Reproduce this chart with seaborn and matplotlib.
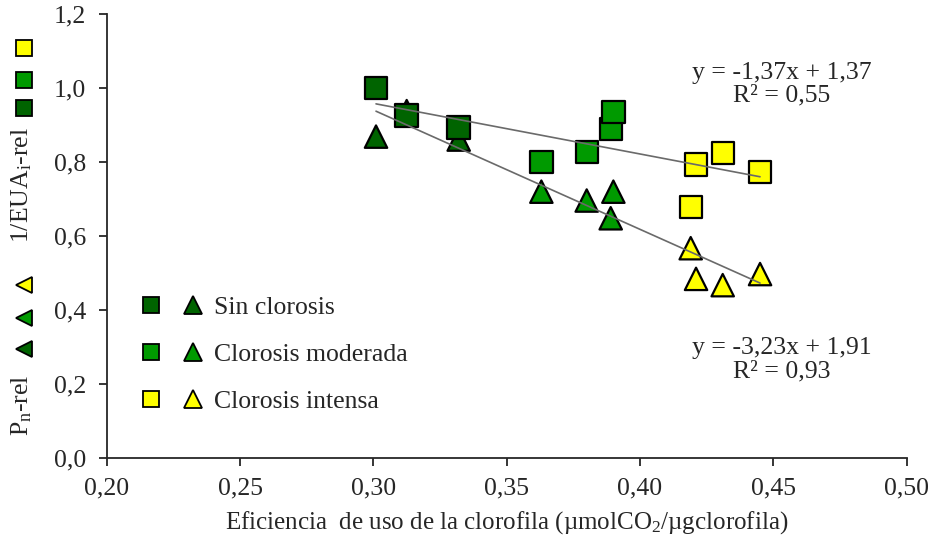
import numpy as np
import pandas as pd
import matplotlib
matplotlib.use("Agg")
import matplotlib.pyplot as plt
from matplotlib.ticker import FuncFormatter, MultipleLocator
from matplotlib.lines import Line2D
from matplotlib.legend_handler import HandlerTuple
import seaborn as sns

# Chlorophyll use efficiency (x) with relative 1/EUAi (squares) and relative Pn (triangles)
groups = ["Sin clorosis", "Clorosis moderada", "Clorosis intensa"]

x_sin = [0.301, 0.3125, 0.332]
eua_sin = [1.000, 0.926, 0.894]
pn_sin = [0.869, 0.938, 0.861]

x_mod = [0.363, 0.380, 0.389, 0.390]
eua_mod = [0.801, 0.828, 0.890, 0.936]
pn_mod = [0.720, 0.696, 0.648, 0.720]

x_int = [0.419, 0.421, 0.431, 0.445]
eua_int = [0.678, 0.794, 0.824, 0.774]
pn_int = [0.567, 0.484, 0.467, 0.497]

# Linear fits as reported in the equations
fit_eua = (-1.37, 1.37, 0.55)
fit_pn = (-3.23, 1.91, 0.93)

colors = {"Sin clorosis": "#006400", "Clorosis moderada": "#009a00", "Clorosis intensa": "#ffff00"}

rows = []
for g, xs, e, p in [(groups[0], x_sin, eua_sin, pn_sin),
                    (groups[1], x_mod, eua_mod, pn_mod),
                    (groups[2], x_int, eua_int, pn_int)]:
    for xi, ei, pi in zip(xs, e, p):
        rows.append({"x": xi, "y": pi, "grupo": g, "var": "Pn"})
        rows.append({"x": xi, "y": ei, "grupo": g, "var": "EUA"})
df = pd.DataFrame(rows)

FS = 18.5

sns.set_style("ticks")
plt.rcParams["font.family"] = ["Liberation Serif", "DejaVu Serif"]
plt.rcParams["mathtext.fontset"] = "custom"
plt.rcParams["mathtext.rm"] = "Liberation Serif"
plt.rcParams["mathtext.it"] = "Liberation Serif"

fig = plt.figure(figsize=(9.34, 5.40), dpi=100)
ax = fig.add_axes([0.1142, 0.1524, 0.9708 - 0.1142, 0.9735 - 0.1524])

for var, mk in [("Pn", "^"), ("EUA", "s")]:
    sub = df[df["var"] == var]
    sns.scatterplot(data=sub, x="x", y="y", hue="grupo", palette=colors,
                    marker=mk, s=260, edgecolor="black", linewidth=1.6,
                    legend=False, ax=ax, zorder=3)

allx = np.array(x_sin + x_mod + x_int)
xl = np.array([allx.min(), allx.max()])
for m, b, _ in (fit_eua, fit_pn):
    ax.plot(xl, m * xl + b, color="#6a6a6a", lw=1.2, zorder=4)

def fmt_eq(m, b, r2):
    s = f"y = {m:.2f}x + {b:.2f}\nR² = {r2:.2f}"
    return s.replace(".", ",")

ax.text(0.4532, 1.01, fmt_eq(*fit_eua), ha="center", va="center",
        fontsize=FS, linespacing=1.05, multialignment="center")
ax.text(0.4532, 0.265, fmt_eq(*fit_pn), ha="center", va="center",
        fontsize=FS, linespacing=1.05, multialignment="center")

ax.set_xlim(0.20, 0.50)
ax.set_ylim(0.0, 1.2)
ax.xaxis.set_major_locator(MultipleLocator(0.05))
ax.yaxis.set_major_locator(MultipleLocator(0.2))
ax.xaxis.set_major_formatter(FuncFormatter(lambda v, p: f"{v:.2f}".replace(".", ",")))
ax.yaxis.set_major_formatter(FuncFormatter(lambda v, p: f"{v:.1f}".replace(".", ",")))
ax.tick_params(axis="both", direction="out", length=6, width=1.3, labelsize=FS)
ax.tick_params(axis="x", pad=8)
ax.tick_params(axis="y", pad=9)
for s in ("top", "right"):
    ax.spines[s].set_visible(False)
for s in ("left", "bottom"):
    ax.spines[s].set_linewidth(1.3)
ax.set_xlabel("Eficiencia  de uso de la clorofila (µmolCO$_2$/µgclorofila)", fontsize=18, labelpad=7)
ax.set_ylabel("")

# Legend: square + triangle per group
handles = []
for g in groups:
    sq = Line2D([], [], marker="s", ls="none", ms=11.5, mfc=colors[g], mec="black", mew=1.3)
    tr = Line2D([], [], marker="^", ls="none", ms=12.5, mfc=colors[g], mec="black", mew=1.3)
    handles.append((sq, tr))
ax.legend(handles, groups, handler_map={tuple: HandlerTuple(ndivide=None, pad=0.97)},
          loc="upper left", bbox_to_anchor=(0.032, 0.387), frameon=False, fontsize=FS,
          handlelength=2.3, handletextpad=0.5, labelspacing=0.93, borderaxespad=0)

# Composite y-axis label with marker keys
fig.text(0.0233, 1 - 185 / 540, "1/EUA$_\\mathrm{i}$-rel", rotation=90, ha="center", va="center", fontsize=FS)
fig.text(0.0233, 1 - 405 / 540, "P$_\\mathrm{n}$-rel", rotation=90, ha="center", va="center", fontsize=FS)
key_y_sq = [48, 80, 108]
key_y_tr = [285, 318, 349]
for g, ys, yt in zip(groups[::-1], key_y_sq, key_y_tr):
    fig.add_artist(Line2D([24 / 934], [1 - ys / 540], marker="s", ls="none", ms=11,
                          mfc=colors[g], mec="black", mew=1.3, transform=fig.transFigure))
    fig.add_artist(Line2D([24 / 934], [1 - yt / 540], marker="<", ls="none", ms=12,
                          mfc=colors[g], mec="black", mew=1.3, transform=fig.transFigure))

fig.savefig("out.png", dpi=100)
